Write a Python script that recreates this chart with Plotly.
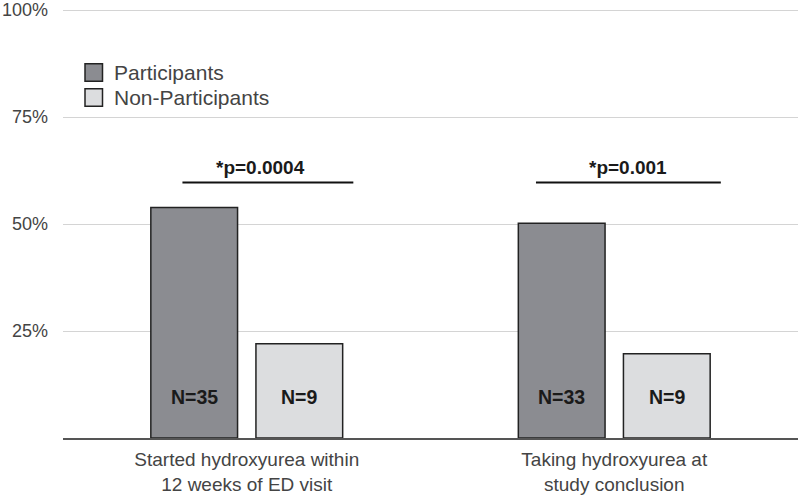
import plotly.graph_objects as go

# ---- data ----
categories = ["Started hydroxyurea within<br>12 weeks of ED visit",
              "Taking hydroxyurea at<br>study conclusion"]
participants = [53.9, 50.2]
non_participants = [22.0, 19.7]
participants_n = ["N=35", "N=33"]
non_participants_n = ["N=9", "N=9"]
p_values = ["*p=0.0004", "*p=0.001"]
y_ticks = [25, 50, 75, 100]
y_tick_labels = ["25%", "50%", "75%", "100%"]
series_names = ["Participants", "Non-Participants"]

# ---- style ----
FONT = "Liberation Sans"
C_PART = "#8b8c91"
C_NON = "#dcdddf"
C_EDGE = "#222222"
BAR_W = 0.236
OFF_P = -0.261
OFF_N = 0.025
N_LABEL_Y = 9.6
P_LINE_Y = 59.7
P_TEXT_Y = 63.2
P_LINE_LEFT = [-0.175, -0.213]
P_LINE_RIGHT = [0.29, 0.29]
P_TEXT_DX = 0.037
Y_MAX = 100.5

xs = list(range(len(categories)))

fig = go.Figure()
fig.add_trace(go.Bar(x=xs, y=participants, name=series_names[0], width=BAR_W, offset=OFF_P,
                     marker=dict(color=C_PART, line=dict(color=C_EDGE, width=1.5)),
                     showlegend=False, hoverinfo="skip"))
fig.add_trace(go.Bar(x=xs, y=non_participants, name=series_names[1], width=BAR_W, offset=OFF_N,
                     marker=dict(color=C_NON, line=dict(color=C_EDGE, width=1.5)),
                     showlegend=False, hoverinfo="skip"))

annotations = []
shapes = []
for i, x in enumerate(xs):
    annotations.append(dict(x=x + OFF_P + BAR_W / 2, y=N_LABEL_Y, xref="x", yref="y",
                            text="<b>%s</b>" % participants_n[i], showarrow=False,
                            font=dict(family=FONT, size=19.5, color="#1a1a1a")))
    annotations.append(dict(x=x + OFF_N + BAR_W / 2, y=N_LABEL_Y, xref="x", yref="y",
                            text="<b>%s</b>" % non_participants_n[i], showarrow=False,
                            font=dict(family=FONT, size=19.5, color="#1a1a1a")))
    annotations.append(dict(x=x + P_TEXT_DX, y=P_TEXT_Y, xref="x", yref="y",
                            text="<b>%s</b>" % p_values[i], showarrow=False,
                            font=dict(family=FONT, size=19, color="#1a1a1a")))
    shapes.append(dict(type="line", xref="x", yref="y", x0=x + P_LINE_LEFT[i], x1=x + P_LINE_RIGHT[i],
                       y0=P_LINE_Y, y1=P_LINE_Y, line=dict(color="#111111", width=2)))

# plot-area geometry in page pixels
PLOT_L, PLOT_R, PLOT_B = 63, 798, 438
PX_PER_UNIT = 4.275
PLOT_T = PLOT_B - PX_PER_UNIT * Y_MAX

def px(xp):
    return (xp - PLOT_L) / (PLOT_R - PLOT_L)
def py(yp):
    return (PLOT_B - yp) / (PLOT_B - PLOT_T)

# legend (drawn manually so the swatches match the reference size)
legend_rows = [(64, C_PART), (89, C_NON)]
for (top, col), name in zip(legend_rows, series_names):
    shapes.append(dict(type="rect", xref="paper", yref="paper",
                       x0=px(85), x1=px(102.5), y0=py(top + 17.5), y1=py(top),
                       fillcolor=col, line=dict(color=C_EDGE, width=1.5)))
    annotations.append(dict(x=px(112), y=py(top + 9), xref="paper", yref="paper",
                            xanchor="left", yanchor="middle", text=name, showarrow=False,
                            font=dict(family=FONT, size=21, color="#444444")))

fig.update_layout(
    width=800, height=498,
    margin=dict(l=PLOT_L, r=800 - PLOT_R, t=PLOT_T, b=498 - PLOT_B, autoexpand=False),
    paper_bgcolor="white", plot_bgcolor="white",
    barmode="overlay",
    showlegend=False,
    annotations=annotations,
    shapes=shapes,
    xaxis=dict(range=[-0.5, 1.5], tickmode="array", tickvals=xs, ticktext=categories,
               tickfont=dict(family=FONT, size=19, color="#444444"),
               showgrid=False, zeroline=False, showline=True, linecolor="#555555", linewidth=2,
               ticks="", ticklabelstandoff=3, fixedrange=True, automargin=False),
    yaxis=dict(range=[0, Y_MAX], tickmode="array", tickvals=y_ticks, ticktext=y_tick_labels,
               tickfont=dict(family=FONT, size=18, color="#444444"),
               showgrid=True, gridcolor="#d4d4d4", gridwidth=1, zeroline=False,
               showline=False, ticks="", ticklabelstandoff=14, ticklabeloverflow="allow",
               fixedrange=True, automargin=False),
)

fig.write_html("out.html", config={"displayModeBar": False, "staticPlot": True},
               post_script="document.body.style.margin='0';")
